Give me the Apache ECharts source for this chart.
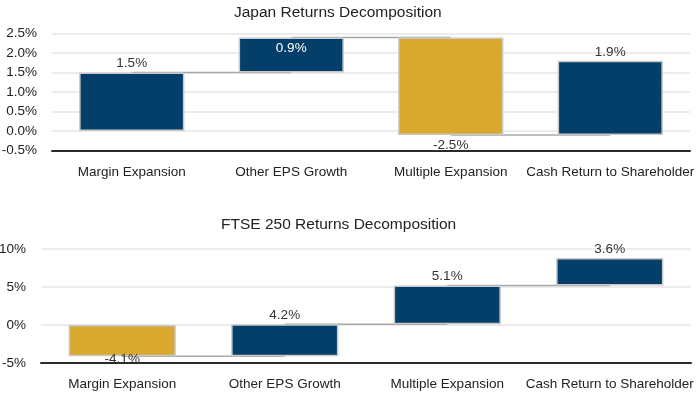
<!DOCTYPE html>
<html><head><meta charset="utf-8">
<script src="https://cdn.jsdelivr.net/npm/echarts@6/dist/echarts.min.js"></script>
<style>html,body{margin:0;padding:0;background:#fff}#c{width:700px;height:398px}</style>
</head><body><div id="c"></div>
<script>
// ---- data ----
var categories = ['Margin Expansion', 'Other EPS Growth', 'Multiple Expansion', 'Cash Return to Shareholder'];
var japanValues = [1.5, 0.9, -2.5, 1.9];
var ftseValues = [-4.1, 4.2, 5.1, 3.6];
var japanTitle = 'Japan Returns Decomposition';
var ftseTitle = 'FTSE 250 Returns Decomposition';
var japanAxis = { min: -0.5, max: 2.5, interval: 0.5, decimals: 1 };
var ftseAxis = { min: -5, max: 10, interval: 5, decimals: 0 };

// ---- style (label placement per bar) ----
var japanLabelPos = ['top', 'insideTop', 'bottom', 'top'];
var japanLabelDist = [2, 4, 3, 2];
var japanLabelColor = ['#333', '#fff', '#333', '#333'];
var ftseLabelPos = ['bottom', 'top', 'top', 'top'];
var ftseLabelDist = [-4, 2, 2, 2];
var ftseLabelColor = ['#333', '#333', '#333', '#333'];

var NAVY = '#043f6a', GOLD = '#d9a92f';
var FONT = 'Liberation Sans, Arial, Helvetica, sans-serif';
var FS = 13.5;

function r1(x) { return Math.round(x * 10) / 10; }
function starts(vals) { var s = [], c = 0; vals.forEach(function (v) { s.push(r1(c)); c += v; }); return s; }

function buildSeries(k, vals, pos, dist, col) {
  var st = starts(vals);
  var out = [];
  for (var i = 0; i < vals.length - 1; i++) {
    var lvl = r1(st[i] + vals[i]);
    out.push({
      type: 'line', xAxisIndex: k, yAxisIndex: k, z: 0, silent: true,
      symbol: 'none', lineStyle: { color: '#a8a8a8', width: 1.5 },
      data: [[i, lvl], [i + 1, lvl]]
    });
  }
  out.push({
    type: 'bar', stack: 'w' + k, stackStrategy: 'all', xAxisIndex: k, yAxisIndex: k,
    barWidth: '66%', silent: true, z: 1,
    itemStyle: { color: 'rgba(0,0,0,0)', borderWidth: 0 },
    data: st
  });
  out.push({
    type: 'bar', stack: 'w' + k, stackStrategy: 'all', xAxisIndex: k, yAxisIndex: k,
    barWidth: '66%', z: 3,
    data: vals.map(function (v, i) {
      return {
        value: v,
        itemStyle: { color: v < 0 ? GOLD : NAVY, borderColor: '#c9c9c9', borderWidth: 1.5 },
        label: { show: true, position: pos[i], distance: dist[i], color: col[i],
          fontFamily: FONT, fontSize: FS,
          formatter: function (p) { return p.value.toFixed(1) + '%'; } }
      };
    })
  });
  return out;
}

function yAx(k, ax) {
  return {
    type: 'value', gridIndex: k, min: ax.min, max: ax.max, interval: ax.interval,
    axisLine: { show: false }, axisTick: { show: false },
    axisLabel: { color: '#222', fontFamily: FONT, fontSize: FS, margin: 15,
      formatter: function (v) { return v.toFixed(ax.decimals) + '%'; } },
    splitLine: { lineStyle: { color: '#e6e6e6', width: 1.5 } }
  };
}
function xAx(k, margin) {
  return {
    type: 'category', gridIndex: k, data: categories,
    axisLine: { onZero: false, lineStyle: { color: '#2a2a2a', width: 2 } },
    axisTick: { show: false },
    axisLabel: { color: '#222', fontFamily: FONT, fontSize: FS, margin: margin, interval: 0 }
  };
}

var chart = echarts.init(document.getElementById('c'), null, { renderer: 'canvas' });
chart.setOption({
  animation: false,
  backgroundColor: '#fff',
  title: [
    { text: japanTitle, left: 229, top: 0, textStyle: { fontFamily: FONT, fontSize: 15.5, fontWeight: 'normal', color: '#222' } },
    { text: ftseTitle, left: 216, top: 212, textStyle: { fontFamily: FONT, fontSize: 15.5, fontWeight: 'normal', color: '#222' } }
  ],
  grid: [
    { left: 52, right: 10, top: 33.5, height: 117, outerBoundsMode: 'none', containLabel: false },
    { left: 41, right: 9, top: 249, height: 114, outerBoundsMode: 'none', containLabel: false }
  ],
  xAxis: [xAx(0, 15), xAx(1, 14)],
  yAxis: [yAx(0, japanAxis), yAx(1, ftseAxis)],
  series: buildSeries(0, japanValues, japanLabelPos, japanLabelDist, japanLabelColor)
    .concat(buildSeries(1, ftseValues, ftseLabelPos, ftseLabelDist, ftseLabelColor))
});
</script></body></html>
